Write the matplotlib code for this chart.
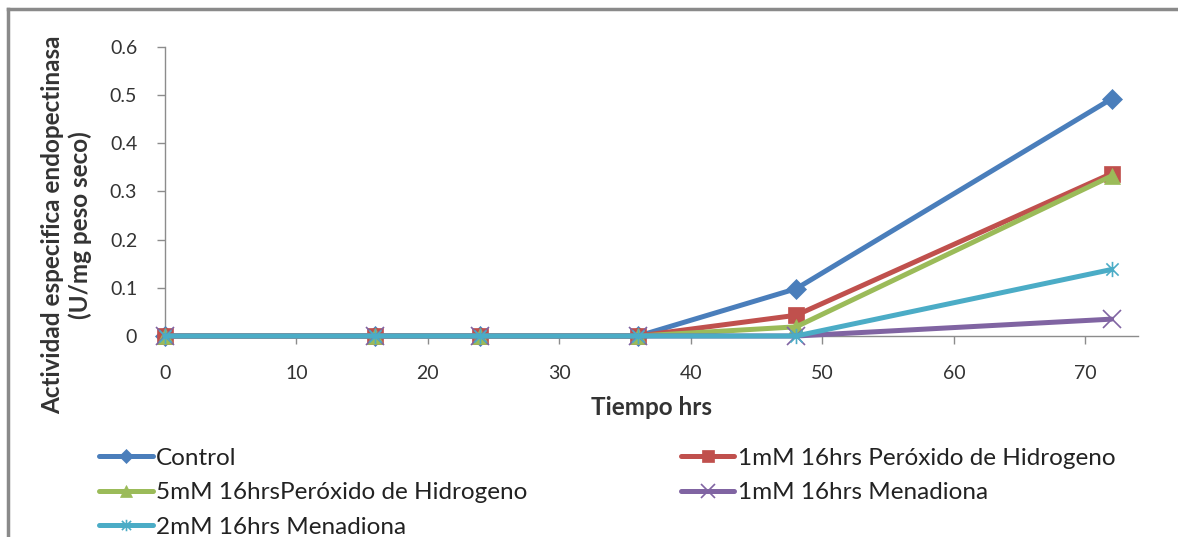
import matplotlib
matplotlib.use("Agg")
import matplotlib.pyplot as plt
from matplotlib.path import Path
from matplotlib.lines import Line2D

plt.rcParams['font.family'] = ['Lato', 'DejaVu Sans']

# Sampling times (hours)
tiempo = [0, 16, 24, 36, 48, 72]

# Specific endopectinase activity (U/mg dry weight) per treatment
control = [0, 0, 0, 0, 0.098, 0.492]
peroxido_1mM = [0, 0, 0, 0, 0.043, 0.337]
peroxido_5mM = [0, 0, 0, 0, 0.019, 0.332]
menadiona_1mM = [0, 0, 0, 0, 0.0, 0.035]
menadiona_2mM = [0, 0, 0, 0, 0.0, 0.138]

etiquetas = [
    "Control",
    "1mM 16hrs Peróxido de Hidrogeno",
    "5mM 16hrsPeróxido de Hidrogeno",
    "1mM 16hrs Menadiona",
    "2mM 16hrs Menadiona",
]

x_ticks = [0, 10, 20, 30, 40, 50, 60, 70]
y_ticks = [0, 0.1, 0.2, 0.3, 0.4, 0.5, 0.6]
y_ticklabels = ["0", "0.1", "0.2", "0.3", "0.4", "0.5", "0.6"]

# Excel-style star marker: an X crossed by a vertical bar
star = Path(
    [(-1, -1), (1, 1), (-1, 1), (1, -1), (0, -1.25), (0, 1.25)],
    [Path.MOVETO, Path.LINETO, Path.MOVETO, Path.LINETO, Path.MOVETO, Path.LINETO],
)

series = [
    (control, "#4A7EBB", "D", 10),
    (peroxido_1mM, "#C0504D", "s", 11),
    (peroxido_5mM, "#9BBB59", "^", 11),
    (menadiona_1mM, "#8064A2", "x", 13),
    (menadiona_2mM, "#4BACC6", star, 11),
]

fig = plt.figure(figsize=(11.78, 5.37), dpi=100)
ax = fig.add_axes([0.140, 0.3743, 0.826, 0.5387])

handles = []
for (vals, color, mk, ms), lab in zip(series, etiquetas):
    thin = (mk == "x") or (mk is star)
    h, = ax.plot(tiempo, vals, color=color, linewidth=3.6, label=lab,
                 solid_capstyle="round", clip_on=False,
                 marker=mk, markersize=ms, markerfacecolor=color,
                 markeredgecolor=color, markeredgewidth=1.2 if thin else 0.5)
    handles.append(h)

ax.set_xlim(0, 74)
ax.set_ylim(0, 0.6)
ax.set_xticks(x_ticks)
ax.set_yticks(y_ticks)
ax.set_yticklabels(y_ticklabels)

for s in ("top", "right"):
    ax.spines[s].set_visible(False)
for s in ("left", "bottom"):
    ax.spines[s].set_color("#8c8c8c")
    ax.spines[s].set_linewidth(1.0)
    ax.spines[s].set_zorder(0.5)

ax.tick_params(axis="x", direction="out", length=6, width=1, color="#8c8c8c",
               pad=15, labelsize=14, labelcolor="#333333")
ax.tick_params(axis="y", direction="out", length=6, width=1, color="#8c8c8c",
               pad=14, labelsize=14, labelcolor="#333333")

ax.set_xlabel("Tiempo hrs", fontsize=17.5, fontweight="bold", color="#333333", labelpad=10)
ax.set_ylabel("Actividad especifica endopectinasa\n(U/mg peso seco)", fontsize=17.5,
              fontweight="bold", color="#333333", linespacing=1.2)
ax.yaxis.set_label_coords(-0.075, 0.384)

# Legend in the lower band, two columns filled row by row
order = [0, 2, 4, 1, 3]
leg = fig.legend([handles[i] for i in order], [etiquetas[i] for i in order],
                 ncol=2, loc="upper left", bbox_to_anchor=(0.076, 0.184),
                 frameon=False, fontsize=17.5, handlelength=2.2, handletextpad=0.15,
                 columnspacing=6.3, labelspacing=0.55, borderaxespad=0,
                 markerscale=0.75)
for t in leg.get_texts():
    t.set_color("#222222")

# Chart-area border (top and left edges)
fig.add_artist(Line2D([8 / 1178, 1.0], [1 - 9 / 537, 1 - 9 / 537], transform=fig.transFigure,
                      color="#8a8a8a", linewidth=2.5))
fig.add_artist(Line2D([8 / 1178, 8 / 1178], [0, 1 - 9 / 537], transform=fig.transFigure,
                      color="#8a8a8a", linewidth=2.5))

fig.savefig("out.png", dpi=100, facecolor="white")
